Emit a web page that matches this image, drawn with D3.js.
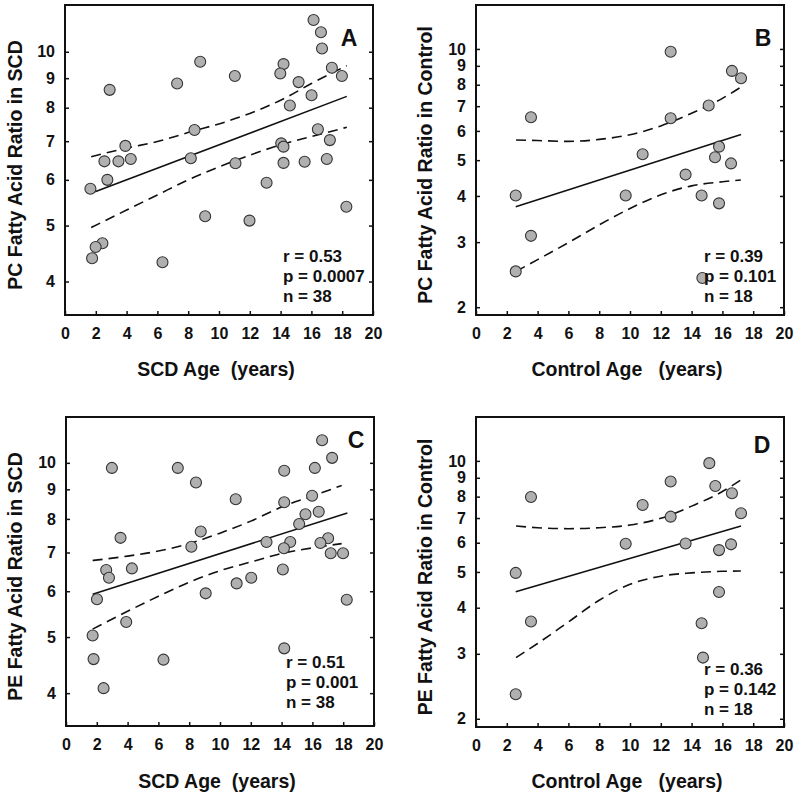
<!DOCTYPE html>
<html>
<head>
<meta charset="utf-8">
<script src="https://cdn.jsdelivr.net/npm/d3@7"></script>
<style>
  html, body { margin: 0; padding: 0; background: #fff; }
  svg { display: block; font-family: "Liberation Sans", Arial, sans-serif; }
  text { font-weight: bold; fill: #111; }
</style>
</head>
<body>
<svg id="chart" width="800" height="797"></svg>
<script>
// ---------- Data ----------
// Panel A: PC ratio vs SCD age
const ageA = [16.14,16.62,16.69,8.78,14.19,13.98,11.03,17.33,17.98,15.17,7.28,2.90,16.01,14.6,8.41,16.42,17.2,14.04,3.92,14.19,2.56,3.47,4.27,8.17,17.0,11.07,14.19,15.56,2.75,1.65,13.09,18.27,9.1,11.98,2.43,1.99,1.76,6.33];
const pcSCD = [11.35,10.81,10.13,9.61,9.52,9.17,9.08,9.38,9.08,8.86,8.81,8.59,8.41,8.07,7.32,7.34,7.03,6.94,6.87,6.85,6.46,6.46,6.52,6.54,6.52,6.41,6.42,6.45,6.00,5.79,5.93,5.39,5.19,5.10,4.66,4.59,4.39,4.32];
const fitXA = [1.95, 18.3];
const fitYA = [5.72, 8.37];
const bandXA = [1.7, 4, 6, 8.4, 10, 12, 14.2, 16, 18.3];
const upperA = [6.58, 6.81, 6.99, 7.30, 7.50, 7.82, 8.29, 8.81, 9.46];
const bandXA2 = [1.7, 4, 6, 8, 10, 12, 14, 16, 18.3];
const lowerA = [4.96, 5.32, 5.65, 6.00, 6.32, 6.62, 6.90, 7.13, 7.40];

// Panel B: PC ratio vs Control age
const ageB = [2.58,2.58,3.57,3.57,9.72,10.82,12.64,12.64,13.61,14.65,14.7,15.11,15.52,15.78,15.78,16.56,16.62,17.21];
const pcControl = [4.01,2.50,6.53,3.12,4.01,5.19,9.83,6.49,4.57,4.01,2.40,7.03,5.09,5.44,3.82,4.90,8.72,8.33];
const fitXB = [2.58, 17.21];
const fitYB = [3.74, 5.87];
const bandXB = [2.6, 4, 6, 8, 10, 12, 14, 16, 17.2];
const upperB = [5.67, 5.65, 5.62, 5.69, 5.86, 6.19, 6.70, 7.35, 7.88];
const lowerB = [2.50, 2.69, 2.99, 3.34, 3.70, 4.03, 4.26, 4.37, 4.42];

// Panel C: PE ratio vs SCD age
const ageC = [16.63,17.28,2.98,7.26,16.16,14.17,8.44,11.02,15.98,14.17,16.41,15.55,15.14,8.75,3.54,17.02,13.02,14.56,16.52,14.15,8.14,17.19,17.99,2.61,4.28,14.08,2.79,12.03,11.08,9.07,2.01,18.23,3.91,1.73,14.17,1.79,6.33,2.44];
const peSCD = [10.94,10.20,9.80,9.80,9.80,9.69,9.25,8.65,8.77,8.55,8.23,8.15,7.84,7.61,7.42,7.41,7.30,7.30,7.27,7.12,7.16,6.98,6.98,6.53,6.57,6.54,6.33,6.33,6.19,5.95,5.81,5.80,5.31,5.03,4.78,4.58,4.57,4.08];
const fitXC = [1.73, 18.27];
const fitYC = [5.93, 8.19];
const bandXC = [1.73, 4, 6, 8, 10, 12, 14, 16, 17.9];
const upperC = [6.78, 6.90, 7.04, 7.25, 7.56, 7.93, 8.39, 8.76, 9.14];
const lowerC = [5.16, 5.54, 5.88, 6.22, 6.51, 6.74, 6.97, 7.13, 7.25];

// Panel D: PE ratio vs Control age
const ageD = [2.58,2.58,3.57,3.57,9.72,10.82,12.64,12.64,13.61,14.65,14.74,15.15,15.54,15.78,15.78,16.56,16.62,17.21];
const peControl = [4.97,2.33,7.98,3.67,5.96,7.59,8.79,7.06,5.97,3.63,2.93,9.86,8.55,5.73,4.41,5.94,8.17,7.21];
const fitXD = [2.58, 17.21];
const fitYD = [4.42, 6.66];
const bandXD = [2.6, 4, 6, 8, 10, 12, 14, 16, 17.2];
const upperD = [6.66, 6.59, 6.55, 6.59, 6.70, 6.99, 7.54, 8.26, 8.88];
const lowerD = [2.93, 3.20, 3.66, 4.19, 4.63, 4.87, 4.97, 5.02, 5.03];

// Tick labels
const xTicks = [0, 2, 4, 6, 8, 10, 12, 14, 16, 18, 20];
const yTicksSCD = [4, 5, 6, 7, 8, 9, 10];
const yTicksControl = [2, 3, 4, 5, 6, 7, 8, 9, 10];

// Text
const panelLetters = ["A", "B", "C", "D"];
const yLabels = ["PC Fatty Acid Ratio in SCD", "PC Fatty Acid Ratio in Control", "PE Fatty Acid Ratio in SCD", "PE Fatty Acid Ratio in Control"];
const xLabels = ["SCD Age  (years)", "Control Age   (years)", "SCD Age  (years)", "Control Age   (years)"];
const statsR = ["r = 0.53", "r = 0.39", "r = 0.51", "r = 0.36"];
const statsP = ["p = 0.0007", "p = 0.101", "p = 0.001", "p = 0.142"];
const statsN = ["n = 38", "n = 18", "n = 38", "n = 18"];

// ---------- Layout ----------
const panels = [
  { x0: 65,  x1: 373, y0: 5,   y1: 315, yd: [3.5, 12.05], yt: yTicksSCD,
    ax: ageA, ay: pcSCD, fx: fitXA, fy: fitYA, ux: bandXA, uy: upperA, lx: bandXA2, ly: lowerA,
    letter: [349, 46], stats: [283, 262], ylabX: 15, xlabY: 376 },
  { x0: 476, x1: 784, y0: 5,   y1: 315, yd: [1.905, 13.15], yt: yTicksControl,
    ax: ageB, ay: pcControl, fx: fitXB, fy: fitYB, ux: bandXB, uy: upperB, lx: bandXB, ly: lowerB,
    letter: [763, 46], stats: [704, 262], ylabX: 425, xlabY: 376 },
  { x0: 66,  x1: 374, y0: 417, y1: 726, yd: [3.51, 12.0], yt: yTicksSCD,
    ax: ageC, ay: peSCD, fx: fitXC, fy: fitYC, ux: bandXC, uy: upperC, lx: bandXC, ly: lowerC,
    letter: [356, 448], stats: [286, 668], ylabX: 15, xlabY: 788 },
  { x0: 476, x1: 784, y0: 417, y1: 727, yd: [1.9, 13.15], yt: yTicksControl,
    ax: ageD, ay: peControl, fx: fitXD, fy: fitYD, ux: bandXD, uy: upperD, lx: bandXD, ly: lowerD,
    letter: [762, 453], stats: [704, 675], ylabX: 425, xlabY: 788 }
];

const svg = d3.select("#chart");

panels.forEach((p, i) => {
  const x = d3.scaleLinear().domain([0, 20]).range([p.x0, p.x1]);
  const y = d3.scaleLog().domain(p.yd).range([p.y1, p.y0]);
  const g = svg.append("g");

  // Axes (ticks pointing inward)
  const left = g.append("g").attr("transform", `translate(${p.x0},0)`)
    .call(d3.axisLeft(y).tickValues(p.yt).tickFormat(d3.format("d")).tickSizeInner(-4).tickSizeOuter(0).tickPadding(10));
  const right = g.append("g").attr("transform", `translate(${p.x1},0)`)
    .call(d3.axisRight(y).tickValues(p.yt).tickFormat("").tickSizeInner(-4).tickSizeOuter(0));
  const bottom = g.append("g").attr("transform", `translate(0,${p.y1})`)
    .call(d3.axisBottom(x).tickValues(xTicks).tickFormat(d3.format("d")).tickSizeInner(-4).tickSizeOuter(0).tickPadding(13));
  [left, right, bottom].forEach(a => {
    a.select(".domain").remove();
    a.selectAll(".tick line").attr("stroke", "#111").attr("stroke-width", 1.5);
    a.selectAll(".tick text").attr("font-size", 16).attr("font-weight", "bold")
      .attr("font-family", "'Liberation Sans', Arial, sans-serif").attr("fill", "#111");
  });

  // Frame
  g.append("rect").attr("x", p.x0).attr("y", p.y0)
    .attr("width", p.x1 - p.x0).attr("height", p.y1 - p.y0)
    .attr("fill", "none").attr("stroke", "#111").attr("stroke-width", 2);

  // Confidence bands
  const band = d3.line().x(d => x(d[0])).y(d => y(d[1])).curve(d3.curveMonotoneX);
  g.append("path").datum(d3.zip(p.ux, p.uy)).attr("d", band)
    .attr("fill", "none").attr("stroke", "#111").attr("stroke-width", 1.6).attr("stroke-dasharray", "10,6");
  g.append("path").datum(d3.zip(p.lx, p.ly)).attr("d", band)
    .attr("fill", "none").attr("stroke", "#111").attr("stroke-width", 1.6).attr("stroke-dasharray", "10,6");

  // Regression line (straight on log axis)
  g.append("path").datum(d3.zip(p.fx, p.fy)).attr("d", d3.line().x(d => x(d[0])).y(d => y(d[1])))
    .attr("fill", "none").attr("stroke", "#111").attr("stroke-width", 1.6);

  // Points
  g.selectAll("circle.pt").data(d3.zip(p.ax, p.ay)).join("circle")
    .attr("class", "pt")
    .attr("cx", d => x(d[0])).attr("cy", d => y(d[1])).attr("r", 5.5)
    .attr("fill", "#b0b0b0").attr("stroke", "#333").attr("stroke-width", 1.1);

  // Panel letter
  g.append("text").attr("x", p.letter[0]).attr("y", p.letter[1])
    .attr("text-anchor", "middle").attr("font-size", 23).text(panelLetters[i]);

  // Stats
  [statsR[i], statsP[i], statsN[i]].forEach((s, k) => {
    g.append("text").attr("x", p.stats[0]).attr("y", p.stats[1] + k * 20)
      .attr("font-size", 17).text(s);
  });

  // Axis labels
  const cy = (p.y0 + p.y1) / 2 + 5;
  g.append("text").attr("transform", `translate(${p.ylabX},${cy}) rotate(-90)`)
    .attr("text-anchor", "middle").attr("dominant-baseline", "central")
    .attr("font-size", 19.5).text(yLabels[i]);
  g.append("text").attr("x", (p.x0 + p.x1) / 2 - 3).attr("y", p.xlabY)
    .attr("text-anchor", "middle").attr("font-size", 19.5)
    .style("white-space", "pre").text(xLabels[i]);
});
</script>
</body>
</html>
